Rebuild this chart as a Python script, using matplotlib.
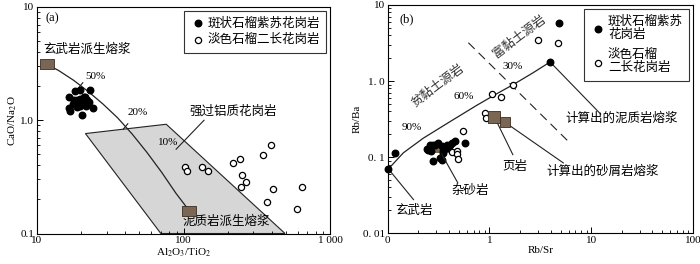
import matplotlib
matplotlib.use("Agg")
import matplotlib.pyplot as plt
from matplotlib.ticker import LogLocator, NullFormatter

plt.rcParams['font.family'] = ['Liberation Serif', 'Noto Sans CJK SC']
plt.rcParams['mathtext.fontset'] = 'stix'
plt.rcParams['axes.linewidth'] = 0.8

# ---------------- panel (a) data ----------------
a_filled_x = [18.2, 19.7, 23.1, 16.6, 17.9, 19.5, 21.4, 22.1, 18.7, 20.6, 22.5,
              16.4, 16.9, 18.7, 19.7, 21.7, 24.1, 20.3, 17.5, 21.0]
a_filled_y = [1.81, 1.84, 1.84, 1.61, 1.52, 1.55, 1.61, 1.52, 1.50, 1.45, 1.45,
              1.29, 1.21, 1.31, 1.33, 1.33, 1.27, 1.12, 1.40, 1.60]
a_open_x = [102.6, 106.4, 133, 146.5, 217, 243, 347, 396, 252, 267, 247, 410, 373, 643, 597]
a_open_y = [0.387, 0.357, 0.387, 0.357, 0.423, 0.453, 0.491, 0.61, 0.327, 0.285,
            0.255, 0.246, 0.19, 0.255, 0.164]
a_end_x = [11.7, 109]          # basalt melt, pelite melt
a_end_y = [3.12, 0.157]
a_curve_x = [11.7, 14.1, 17.8, 22.4, 28.2, 35.5, 44.7, 56.2, 70.8, 89.1, 109]
a_curve_y = [3.12, 2.74, 2.25, 1.79, 1.39, 1.05, 0.753, 0.521, 0.348, 0.225, 0.160]
a_tick_x = [19.7, 40.0]        # 50 %, 20 % marks on the mixing curve
a_tick_y = [2.03, 0.885]
a_field_x = [21.4, 76.2, 493, 70]
a_field_y = [0.763, 0.922, 0.1, 0.1]

# ---------------- panel (b) data ----------------
b_filled_x = [4.87, 3.95, 0.102, 0.118, 0.243, 0.261, 0.278, 0.328, 0.353, 0.381,
              0.411, 0.460, 0.577, 0.293, 0.252, 0.282, 0.316, 0.340, 0.381, 0.427,
              0.396, 0.353, 0.34, 0.27]
b_filled_y = [5.85, 1.78, 0.070, 0.114, 0.129, 0.146, 0.090, 0.098, 0.114, 0.132,
              0.146, 0.161, 0.153, 0.146, 0.125, 0.146, 0.153, 0.139, 0.146, 0.153,
              0.132, 0.120, 0.093, 0.120]
b_open_x = [3.03, 4.76, 1.72, 1.05, 1.29, 0.908, 0.922, 0.555, 0.427, 0.479, 0.485, 0.496]
b_open_y = [3.46, 3.19, 0.90, 0.674, 0.61, 0.376, 0.329, 0.218, 0.117, 0.120, 0.110, 0.096]
b_shale_x, b_shale_y = [1.12], [0.339]
b_sand_x, b_sand_y = [1.43], [0.286]
b_grey_x, b_grey_y = [0.29], [0.132]
b_curve_x = [0.102, 0.143, 0.225, 0.411, 0.752, 1.18, 1.72, 2.70, 3.95]
b_curve_y = [0.070, 0.114, 0.178, 0.293, 0.48, 0.68, 0.90, 1.29, 1.78]
b_dash_x = [0.622, 5.97]
b_dash_y = [3.19, 0.161]

BROWN = '#7a6652'
cjk = 9

fig = plt.figure(figsize=(7.0, 2.64), dpi=100)
ax1 = fig.add_axes([0.0529, 0.1155, 0.4186, 0.858])
ax2 = fig.add_axes([0.5536, 0.1163, 0.4364, 0.865])

rect = [(-1.4, -1), (1.4, -1), (1.4, 1), (-1.4, 1), (-1.4, -1)]

# ---- panel (a) ----
ax1.fill(a_field_x, a_field_y, facecolor='#d6d6d6', edgecolor='#222222', lw=0.8, zorder=1)
ax1.plot(a_curve_x, a_curve_y, color='#222222', lw=0.9, zorder=2)
ax1.plot(a_tick_x, a_tick_y, ls='none', marker=(2, 0, -40), ms=6, mew=0.8,
         color='#222222', zorder=2)
ax1.plot([89, 138], [0.555, 1.0], color='#222222', lw=0.8, zorder=2)
ax1.scatter(a_end_x, a_end_y, marker=rect, s=110, facecolor=BROWN, edgecolor='#3a2e24',
            lw=0.6, zorder=4)
ax1.scatter(a_filled_x, a_filled_y, s=22, color='black', zorder=3,
            label='斑状石榴紫苏花岗岩')
ax1.scatter(a_open_x, a_open_y, s=20, facecolor='white', edgecolor='black', lw=0.9,
            zorder=3, label='淡色石榴二长花岗岩')

ax1.set_xscale('log')
ax1.set_yscale('log')
ax1.set_xlim(10, 1000)
ax1.set_ylim(0.1, 10)
ax1.set_xticks([10, 100, 1000])
ax1.set_xticklabels(['10', '100', '1 000'])
ax1.set_yticks([0.1, 1, 10])
ax1.set_yticklabels(['0.1', '1.0', '10'])
ax1.set_xlabel(r'Al$_2$O$_3$/TiO$_2$', fontsize=8, labelpad=1)
ax1.set_ylabel(r'CaO/Na$_2$O', fontsize=8, labelpad=1)

ax1.text(0.03, 0.975, '(a)', transform=ax1.transAxes, fontsize=9, va='top')
ax1.text(11.0, 4.2, '玄武岩派生熔浆', fontsize=cjk, va='center')
ax1.text(98, 0.128, '泥质岩派生熔浆', fontsize=cjk, va='center')
ax1.text(219, 1.2, '强过铝质花岗岩', fontsize=cjk, va='center', ha='center')
ax1.text(25, 2.44, '50%', fontsize=8, ha='center', va='center')
ax1.text(49, 1.18, '20%', fontsize=8, ha='center', va='center')
ax1.text(79, 0.63, '10%', fontsize=8, ha='center', va='center')

ax1.legend(loc='upper right', fontsize=cjk, frameon=True, fancybox=False,
           edgecolor='black', handletextpad=0.2, borderpad=0.5, labelspacing=0.4,
           handlelength=1.2, borderaxespad=0.3).get_frame().set_linewidth(0.8)

# ---- panel (b) ----
ax2.plot(b_curve_x, b_curve_y, color='#222222', lw=0.9, zorder=2)
ax2.plot(b_dash_x, b_dash_y, color='#222222', lw=0.8, dashes=(8, 5), zorder=2)
# leaders
ax2.plot([3.95, 12.4], [1.78, 0.368], color='#222222', lw=0.8, zorder=2)
ax2.plot([1.43, 5.33], [0.286, 0.084], color='#222222', lw=0.8, zorder=2)
ax2.plot([1.12, 1.70], [0.339, 0.108], color='#222222', lw=0.8, zorder=2)
ax2.plot([0.34, 0.49], [0.11, 0.046], color='#222222', lw=0.8, zorder=5)
ax2.plot([0.102, 0.18], [0.070, 0.0277], color='#222222', lw=0.8, zorder=2)

ax2.scatter(b_grey_x, b_grey_y, marker='s', s=50, facecolor=BROWN, edgecolor='none', zorder=3)
ax2.scatter(b_filled_x, b_filled_y, s=22, color='black', zorder=4, clip_on=False,
            label='斑状石榴紫苏\n花岗岩')
ax2.scatter(b_open_x, b_open_y, s=20, facecolor='white', edgecolor='black', lw=0.9,
            zorder=4, label='淡色石榴\n二长花岗岩')
ax2.scatter(b_shale_x, b_shale_y, marker='s', s=85, facecolor=BROWN, edgecolor='#3a2e24',
            lw=0.6, zorder=5)
ax2.scatter(b_sand_x, b_sand_y, marker='s', s=42, facecolor=BROWN, edgecolor='#3a2e24',
            lw=0.6, zorder=5)

ax2.set_xscale('log')
ax2.set_yscale('log')
ax2.set_xlim(0.1, 100)
ax2.set_ylim(0.01, 10)
ax2.set_xticks([0.1, 1, 10, 100])
ax2.set_xticklabels(['0', '1', '10', '100'])
ax2.set_yticks([0.01, 0.1, 1, 10])
ax2.set_yticklabels(['0. 01', '0. 1', '1. 0', '10'])
ax2.set_xlabel('Rb/Sr', fontsize=8, labelpad=1)
ax2.set_ylabel('Rb/Ba', fontsize=8, labelpad=1)

ax2.text(0.04, 0.965, '(b)', transform=ax2.transAxes, fontsize=9, va='top')
ax2.text(0.173, 0.248, '90%', fontsize=8, ha='center', va='center')
ax2.text(0.556, 0.63, '60%', fontsize=8, ha='center', va='center')
ax2.text(1.70, 1.57, '30%', fontsize=8, ha='center', va='center')
ax2.text(0.309, 0.86, '贫黏土源岩', fontsize=cjk, ha='center', va='center', rotation=37,
         color='#333333')
ax2.text(2.0, 3.83, '富黏土源岩', fontsize=cjk, ha='center', va='center', rotation=37,
         color='#333333')
ax2.text(20, 0.324, '计算出的泥质岩熔浆', fontsize=cjk, ha='center', va='center')
ax2.text(12.9, 0.065, '计算出的砂屑岩熔浆', fontsize=cjk, ha='center', va='center')
ax2.text(1.79, 0.074, '页岩', fontsize=cjk, ha='center', va='center')
ax2.text(0.646, 0.0357, '杂砂岩', fontsize=cjk, ha='center', va='center')
ax2.text(0.18, 0.0195, '玄武岩', fontsize=cjk, ha='center', va='center')

ax2.legend(loc='upper right', fontsize=cjk, frameon=True, fancybox=False,
           edgecolor='black', handletextpad=0.2, borderpad=0.5, labelspacing=0.6,
           handlelength=1.2, borderaxespad=0.3).get_frame().set_linewidth(0.8)

for ax in (ax1, ax2):
    ax.tick_params(which='both', direction='in', top=False, right=False, labelsize=8, pad=2)
    ax.tick_params(which='major', length=4, width=0.7)
    ax.tick_params(which='minor', length=2.5, width=0.6)
    ax.xaxis.set_minor_locator(LogLocator(base=10, subs=range(2, 10)))
    ax.yaxis.set_minor_locator(LogLocator(base=10, subs=range(2, 10)))
    ax.xaxis.set_minor_formatter(NullFormatter())
    ax.yaxis.set_minor_formatter(NullFormatter())

fig.savefig('out.png', dpi=100)
